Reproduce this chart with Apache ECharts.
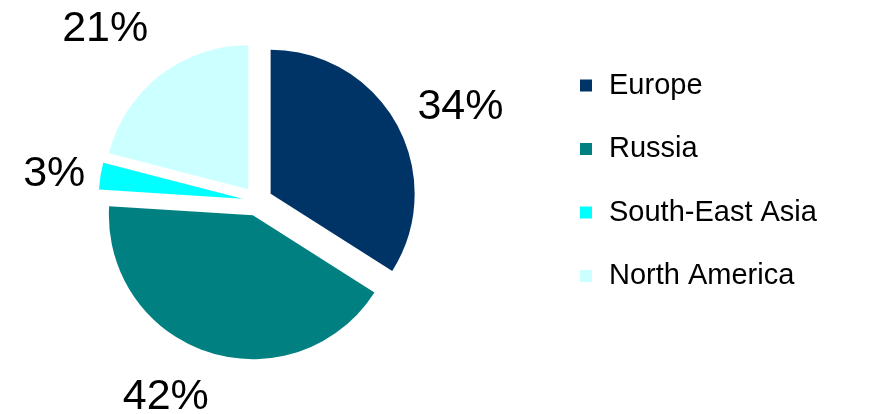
<!DOCTYPE html>
<html><head><meta charset="utf-8">
<script src="https://cdn.jsdelivr.net/npm/echarts@6/dist/echarts.min.js"></script>
<style>html,body{margin:0;padding:0;background:#fff}#c{width:877px;height:414px}</style>
</head><body><div id="c"></div>
<script>
const categories = ['Europe', 'Russia', 'South-East Asia', 'North America'];
const shares = [34, 42, 3, 21];
const colors = ['#003366', '#008080', '#00FFFF', '#CCFFFF'];
const labelLen = [36, 47, 14, 58.5];
const labelShift = [-11, -15, 1.3, -24];

const chart = echarts.init(document.getElementById('c'), null, {renderer: 'canvas'});
const data = categories.map((name, i) => ({
  name: name,
  value: shares[i],
  selected: true,
  itemStyle: {color: colors[i]},
  label: {distanceToLabelLine: labelShift[i]},
  labelLine: {show: false, length: labelLen[i], length2: 0}
}));
chart.setOption({
  backgroundColor: '#ffffff',
  animation: false,
  legend: {
    orient: 'vertical',
    left: 580,
    top: 71,
    padding: 0,
    itemGap: 34.5,
    itemWidth: 12,
    itemHeight: 12,
    icon: 'rect',
    selectedMode: false,
    data: categories,
    textStyle: {fontFamily: 'Liberation Sans', fontSize: 29, color: '#000', padding: [0, 0, 0, 12]}
  },
  series: [{
    type: 'pie',
    center: [257.5, 201],
    radius: [0, 144],
    startAngle: 90,
    clockwise: true,
    selectedMode: 'multiple',
    selectedOffset: 15,
    avoidLabelOverlap: false,
    emphasis: {disabled: true},
    label: {
      show: true,
      position: 'outside',
      formatter: '{c}%',
      fontFamily: 'Liberation Sans',
      fontSize: 43,
      color: '#000'
    },
    select: {label: {color: '#000'}, itemStyle: {borderWidth: 0}},
    labelLine: {show: false},
    data: data
  }]
});
</script></body></html>
